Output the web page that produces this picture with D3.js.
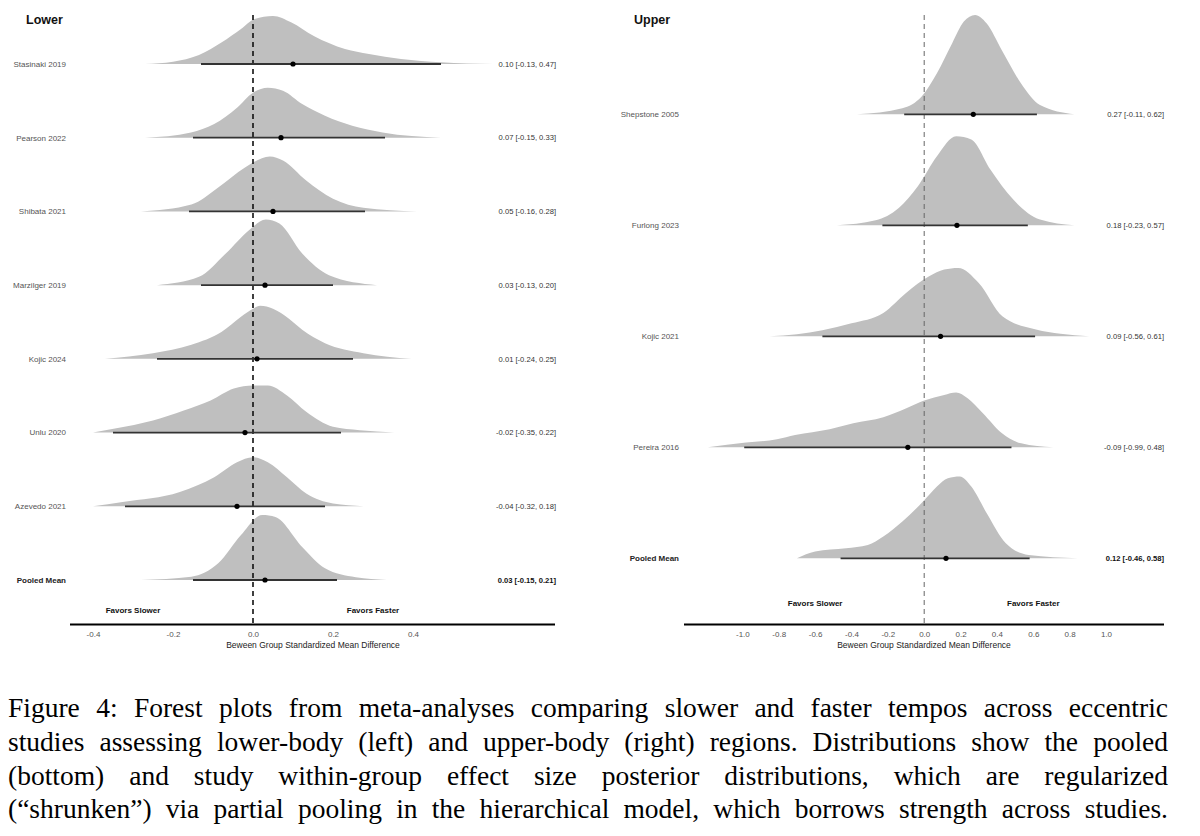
<!DOCTYPE html>
<html>
<head>
<meta charset="utf-8">
<script src="https://cdn.jsdelivr.net/npm/d3@7"></script>
<style>
  html, body { margin: 0; padding: 0; background: #fff; }
  svg { display: block; }
</style>
</head>
<body>
<div id="chart"></div>
<script>
// ---- data ----
const lowerStudies = ["Stasinaki 2019", "Pearson 2022", "Shibata 2021", "Marzilger 2019",
  "Kojic 2024", "Unlu 2020", "Azevedo 2021", "Pooled Mean"];
const lowerMean = [0.10, 0.07, 0.05, 0.03, 0.01, -0.02, -0.04, 0.03];
const lowerLow = [-0.13, -0.15, -0.16, -0.13, -0.24, -0.35, -0.32, -0.15];
const lowerHigh = [0.47, 0.33, 0.28, 0.20, 0.25, 0.22, 0.18, 0.21];
// posterior density outlines: [effect size, relative height]
const lowerDens = [
  [[-0.27,0],[-0.2,0.023],[-0.135,0.09],[-0.078,0.217],[-0.03,0.35],[0.004,0.45],[0.05,0.48],[0.095,0.417],[0.152,0.28],[0.23,0.15],[0.29,0.10],[0.37,0.05],[0.47,0.017],[0.60,0]],
  [[-0.27,0],[-0.155,0.053],[-0.097,0.137],[-0.04,0.30],[0.0,0.45],[0.037,0.50],[0.075,0.47],[0.123,0.337],[0.18,0.22],[0.248,0.12],[0.324,0.053],[0.47,0]],
  [[-0.28,0],[-0.154,0.07],[-0.087,0.24],[-0.02,0.44],[0.042,0.55],[0.075,0.51],[0.133,0.31],[0.2,0.127],[0.276,0.037],[0.41,0]],
  [[-0.24,0],[-0.135,0.083],[-0.068,0.317],[-0.01,0.55],[0.032,0.657],[0.066,0.617],[0.123,0.317],[0.19,0.10],[0.31,0]],
  [[-0.37,0],[-0.25,0.057],[-0.154,0.14],[-0.078,0.27],[-0.03,0.42],[0.0,0.50],[0.018,0.53],[0.05,0.50],[0.09,0.40],[0.123,0.29],[0.18,0.157],[0.276,0.057],[0.396,0]],
  [[-0.40,0],[-0.345,0.04],[-0.25,0.12],[-0.173,0.22],[-0.106,0.32],[-0.048,0.44],[0.0,0.47],[0.037,0.47],[0.085,0.37],[0.133,0.207],[0.2,0.057],[0.267,0.023],[0.353,0]],
  [[-0.40,0],[-0.326,0.043],[-0.183,0.143],[-0.097,0.29],[-0.04,0.44],[0.0,0.49],[0.037,0.44],[0.085,0.29],[0.133,0.127],[0.2,0.027],[0.277,0]],
  [[-0.28,0],[-0.154,0.033],[-0.087,0.167],[-0.03,0.45],[0.023,0.65],[0.056,0.63],[0.123,0.33],[0.18,0.117],[0.257,0.027],[0.334,0]]
];
const lowerTicks = [-0.4, -0.2, 0.0, 0.2, 0.4];
const lowerFavors = [-0.3, 0.3];

const upperStudies = ["Shepstone 2005", "Furlong 2023", "Kojic 2021", "Pereira 2016", "Pooled Mean"];
const upperMean = [0.27, 0.18, 0.09, -0.09, 0.12];
const upperLow = [-0.11, -0.23, -0.56, -0.99, -0.46];
const upperHigh = [0.62, 0.57, 0.61, 0.48, 0.58];
const upperDens = [
  [[-0.37,0],[-0.12,0.06],[-0.014,0.177],[0.07,0.41],[0.154,0.71],[0.218,0.927],[0.28,0.993],[0.343,0.91],[0.427,0.64],[0.532,0.31],[0.637,0.093],[0.826,0]],
  [[-0.48,0],[-0.267,0.05],[-0.14,0.173],[-0.035,0.39],[0.07,0.69],[0.176,0.89],[0.259,0.857],[0.364,0.557],[0.49,0.257],[0.637,0.057],[0.826,0]],
  [[-0.85,0],[-0.70,0.02],[-0.56,0.06],[-0.40,0.13],[-0.225,0.234],[-0.1,0.434],[0.027,0.60],[0.11,0.667],[0.187,0.684],[0.3,0.534],[0.43,0.20],[0.615,0.067],[0.75,0.025],[0.907,0]],
  [[-1.19,0],[-0.98,0.047],[-0.81,0.08],[-0.71,0.123],[-0.52,0.18],[-0.39,0.24],[-0.225,0.30],[-0.098,0.39],[0,0.467],[0.11,0.523],[0.175,0.547],[0.239,0.49],[0.323,0.34],[0.428,0.14],[0.533,0.04],[0.71,0]],
  [[-0.70,0],[-0.6,0.067],[-0.43,0.10],[-0.31,0.133],[-0.225,0.217],[-0.12,0.367],[0,0.58],[0.07,0.717],[0.13,0.80],[0.196,0.817],[0.259,0.717],[0.344,0.45],[0.449,0.15],[0.575,0.033],[0.844,0]]
];
const upperTicks = [-1.0, -0.8, -0.6, -0.4, -0.2, 0.0, 0.2, 0.4, 0.6, 0.8, 1.0];
const upperFavors = [-0.6, 0.6];

const captionLines = [
  "Figure 4: Forest plots from meta-analyses comparing slower and faster tempos across eccentric",
  "studies assessing lower-body (left) and upper-body (right) regions. Distributions show the pooled",
  "(bottom) and study within-group effect size posterior distributions, which are regularized",
  "(\u201Cshrunken\u201D) via partial pooling in the hierarchical model, which borrows strength across studies."
];

// ---- layout ----
const width = 1200, height = 836;
const SANS = "Liberation Sans, Arial, Helvetica, sans-serif";
const SERIF = "Liberation Serif, Times New Roman, serif";
const FILL = "#bfbfbf";

const svg = d3.select("#chart").append("svg")
  .attr("width", width)
  .attr("height", height)
  .style("background", "#fff");

const panels = [
  {
    title: "Lower", studies: lowerStudies, mean: lowerMean, lo: lowerLow, hi: lowerHigh, dens: lowerDens,
    ticks: lowerTicks, favors: lowerFavors,
    x: d3.scaleLinear().domain([-0.4, 0.4]).range([93, 413]),
    rows: [64, 580], titleX: 26, labelX: 66, annotX: 556, axisX: [70, 555], titleMid: 313,
    favorsY: 613, refColor: "#111", refWidth: 1.6
  },
  {
    title: "Upper", studies: upperStudies, mean: upperMean, lo: upperLow, hi: upperHigh, dens: upperDens,
    ticks: upperTicks, favors: upperFavors,
    x: d3.scaleLinear().domain([-1, 1]).range([742.4, 1106]),
    rows: [114.3, 558.3], titleX: 634, labelX: 679, annotX: 1164, axisX: [684, 1164], titleMid: 924,
    favorsY: 606, refColor: "#666", refWidth: 1
  }
];

const h = d3.scaleLinear().domain([0, 1]).range([0, 100]);
const axisY = 624.5;
const fmt = v => v.toFixed(2);

panels.forEach(p => {
  const g = svg.append("g");
  const y = d3.scalePoint().domain(p.studies).range(p.rows);

  // densities
  const area = d3.area().curve(d3.curveMonotoneX);
  g.append("g").selectAll("path")
    .data(p.studies)
    .join("path")
    .attr("fill", FILL)
    .attr("d", (s, i) => area
      .x(d => p.x(d[0]))
      .y0(y(s))
      .y1(d => y(s) - h(d[1]))(p.dens[i]));

  // zero reference line
  g.append("line")
    .attr("x1", p.x(0)).attr("x2", p.x(0))
    .attr("y1", 15).attr("y2", axisY - 1)
    .attr("stroke", p.refColor)
    .attr("stroke-width", p.refWidth)
    .attr("stroke-dasharray", "5,4");

  // intervals + points
  g.append("g").selectAll("line")
    .data(p.studies)
    .join("line")
    .attr("x1", (s, i) => p.x(p.lo[i]))
    .attr("x2", (s, i) => p.x(p.hi[i]))
    .attr("y1", s => y(s)).attr("y2", s => y(s))
    .attr("stroke", "#333")
    .attr("stroke-width", 1.8);

  g.append("g").selectAll("circle")
    .data(p.studies)
    .join("circle")
    .attr("cx", (s, i) => p.x(p.mean[i]))
    .attr("cy", s => y(s))
    .attr("r", 2.6)
    .attr("fill", "#000");

  // study labels
  g.append("g").selectAll("text")
    .data(p.studies)
    .join("text")
    .attr("x", p.labelX)
    .attr("y", s => y(s))
    .attr("dy", "0.35em")
    .attr("text-anchor", "end")
    .style("font-family", SANS)
    .style("font-size", "8px")
    .style("font-weight", s => s === "Pooled Mean" ? "bold" : "normal")
    .style("fill", s => s === "Pooled Mean" ? "#222" : "#555")
    .text(s => s);

  // estimate [interval]
  g.append("g").selectAll("text")
    .data(p.studies)
    .join("text")
    .attr("x", p.annotX)
    .attr("y", s => y(s))
    .attr("dy", "0.35em")
    .attr("text-anchor", "end")
    .style("font-family", SANS)
    .style("font-size", "7.6px")
    .style("font-weight", s => s === "Pooled Mean" ? "bold" : "normal")
    .style("fill", s => s === "Pooled Mean" ? "#111" : "#333")
    .text((s, i) => `${fmt(p.mean[i])} [${fmt(p.lo[i])}, ${fmt(p.hi[i])}]`);

  // panel title
  g.append("text")
    .attr("x", p.titleX).attr("y", 24)
    .style("font-family", SANS)
    .style("font-size", "12.5px")
    .style("font-weight", "bold")
    .style("fill", "#111")
    .text(p.title);

  // favors labels
  g.append("g").selectAll("text")
    .data(p.favors)
    .join("text")
    .attr("x", d => p.x(d))
    .attr("y", p.favorsY)
    .attr("text-anchor", "middle")
    .style("font-family", SANS)
    .style("font-size", "8px")
    .style("font-weight", "bold")
    .style("fill", "#111")
    .text(d => d < 0 ? "Favors Slower" : "Favors Faster");

  // x axis
  const ax = g.append("g")
    .attr("transform", `translate(0,${axisY})`)
    .call(d3.axisBottom(p.x).tickValues(p.ticks).tickSize(0).tickPadding(7)
      .tickFormat(d => d.toFixed(1)));
  ax.select(".domain").remove();
  ax.selectAll("text")
    .style("font-family", SANS)
    .style("font-size", "8px")
    .style("fill", "#555");
  g.append("line")
    .attr("x1", p.axisX[0]).attr("x2", p.axisX[1])
    .attr("y1", axisY).attr("y2", axisY)
    .attr("stroke", "#000")
    .attr("stroke-width", 2);

  g.append("text")
    .attr("x", p.titleMid).attr("y", 648)
    .attr("text-anchor", "middle")
    .style("font-family", SANS)
    .style("font-size", "8.5px")
    .style("fill", "#222")
    .text("Beween Group Standardized Mean Difference");
});

// ---- caption, justified like the source ----
const capLeft = 8, capRight = 1168;
const capBase = [717, 751, 784.5, 818];
const capSize = 27.5;
const cap = svg.append("g")
  .style("font-family", SERIF)
  .style("font-size", capSize + "px")
  .style("fill", "#000");

captionLines.forEach((line, li) => {
  const words = line.split(" ");
  const nodes = words.map(w => cap.append("text").attr("y", capBase[li]).text(w));
  const widths = nodes.map(n => n.node().getComputedTextLength());
  const gap = (capRight - capLeft - d3.sum(widths)) / (words.length - 1);
  let xPos = capLeft;
  nodes.forEach((n, i) => {
    n.attr("x", xPos);
    xPos += widths[i] + gap;
  });
});
</script>
</body>
</html>
